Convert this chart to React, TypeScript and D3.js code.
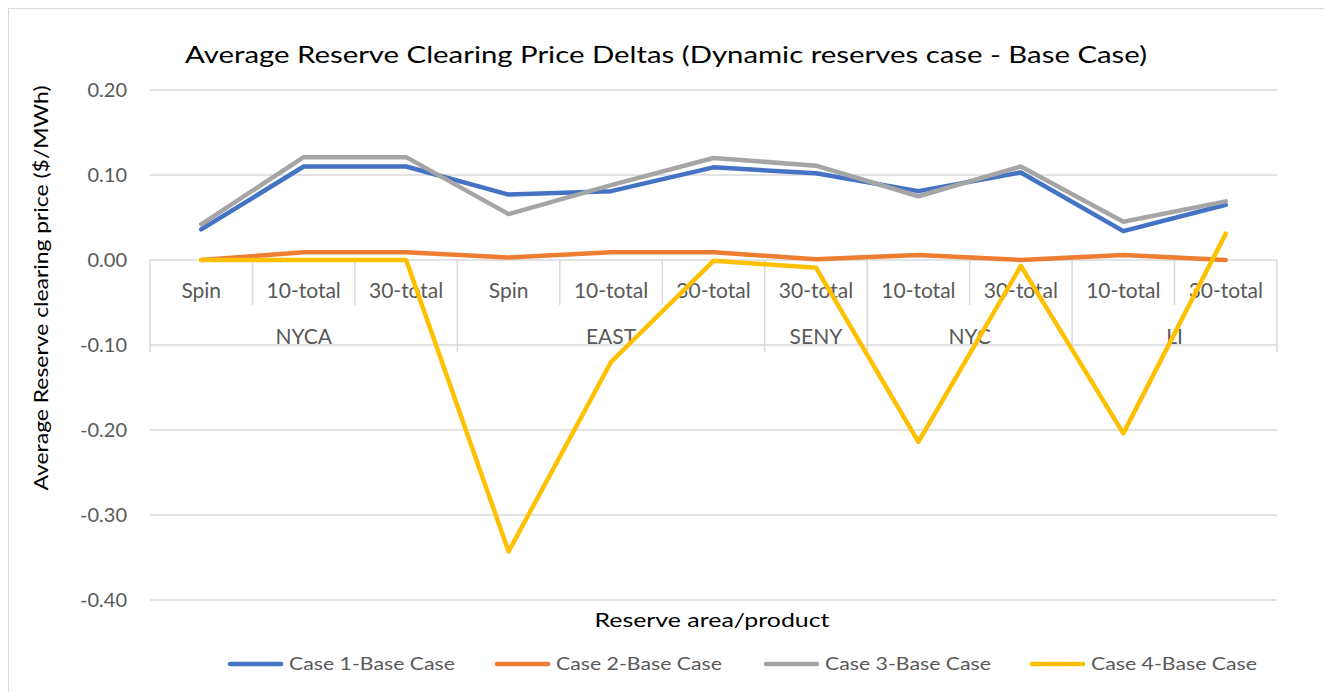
import React from "react";
import * as d3 from "d3";

const categories = ["Spin", "10-total", "30-total", "Spin", "10-total", "30-total", "30-total", "10-total", "30-total", "10-total", "30-total"];
const groupNames = ["NYCA", "EAST", "SENY", "NYC", "LI"];
const groupSizes = [3, 3, 1, 2, 2];
const yTicks = [0.2, 0.1, 0.0, -0.1, -0.2, -0.3, -0.4];

const case1 = [0.036, 0.110, 0.110, 0.077, 0.081, 0.109, 0.102, 0.081, 0.103, 0.034, 0.065];
const case2 = [0.000, 0.009, 0.009, 0.003, 0.009, 0.009, 0.001, 0.006, 0.000, 0.006, 0.000];
const case3 = [0.042, 0.121, 0.121, 0.054, 0.088, 0.120, 0.111, 0.075, 0.110, 0.045, 0.069];
const case4 = [0.000, 0.000, 0.000, -0.343, -0.120, -0.001, -0.009, -0.214, -0.007, -0.204, 0.031];

const seriesNames = ["Case 1-Base Case", "Case 2-Base Case", "Case 3-Base Case", "Case 4-Base Case"];
const seriesColors = ["#4472C4", "#ED7D31", "#A5A5A5", "#FFC000"];
const seriesData = [case1, case2, case3, case4];

const FONT = "Lato, 'Open Sans', sans-serif";

export default function App() {
  const W = 1324, H = 692;
  const left = 150, right = 1277, top = 90, bottom = 600;
  const x = d3.scaleBand<number>().domain(categories.map((_, i) => i)).range([left, right]).paddingInner(0).paddingOuter(0);
  const y = d3.scaleLinear().domain([-0.4, 0.2]).range([bottom, top]);
  const cx = (i: number) => (x(i) as number) + x.bandwidth() / 2;
  const line = d3.line<number>().x((_, i) => cx(i)).y((d) => y(d));
  const y0 = y(0);

  const groupStarts: number[] = [];
  let acc = 0;
  groupSizes.forEach((s) => { groupStarts.push(acc); acc += s; });
  const groupBoundarySet = new Set<number>([...groupStarts, categories.length]);

  const legendX = [228, 495, 764, 1030];

  return (
    <svg width={W} height={H} style={{ position: "absolute", left: 0, top: 0, background: "#fff" }}>
      <rect x={8.5} y={8.5} width={W + 20} height={H + 20} fill="#fff" stroke="#D9D9D9" strokeWidth={1} />
      <text x={666} y={63} textAnchor="middle" fontFamily={FONT} fontSize={24} fill="#000" textLength={962} lengthAdjust="spacingAndGlyphs">
        Average Reserve Clearing Price Deltas (Dynamic reserves case - Base Case)
      </text>
      {yTicks.map((t) => (
        <g key={t}>
          <line x1={left} x2={right} y1={y(t)} y2={y(t)} stroke="#D9D9D9" strokeWidth={1.5} />
          <text x={127} y={y(t) + 7} textAnchor="end" fontFamily={FONT} fontSize={20} fill="#595959">
            {t.toFixed(2)}
          </text>
        </g>
      ))}
      {d3.range(categories.length + 1).map((i) => {
        const xp = i === categories.length ? right : (x(i) as number);
        const isGroup = groupBoundarySet.has(i);
        return <line key={"tk" + i} x1={xp} x2={xp} y1={y0} y2={isGroup ? 352 : 305} stroke="#D9D9D9" strokeWidth={1.5} />;
      })}
      {categories.map((c, i) => (
        <text key={"c" + i} x={cx(i)} y={298} textAnchor="middle" fontFamily={FONT} fontSize={21} fill="#595959">
          {c}
        </text>
      ))}
      {groupNames.map((g, gi) => {
        const s = groupStarts[gi];
        const e = s + groupSizes[gi];
        const x1 = x(s) as number;
        const x2 = e === categories.length ? right : (x(e) as number);
        return (
          <text key={"g" + g} x={(x1 + x2) / 2} y={344} textAnchor="middle" fontFamily={FONT} fontSize={21} fill="#595959">
            {g}
          </text>
        );
      })}
      {seriesData.map((d, si) => (
        <path key={"s" + si} d={line(d) || ""} fill="none" stroke={seriesColors[si]} strokeWidth={4.5} strokeLinejoin="round" strokeLinecap="round" />
      ))}
      <text transform={`translate(48,288) rotate(-90)`} textAnchor="middle" fontFamily={FONT} fontSize={20} fill="#000" textLength={405} lengthAdjust="spacingAndGlyphs">
        Average Reserve clearing price ($/MWh)
      </text>
      <text x={712} y={627} textAnchor="middle" fontFamily={FONT} fontSize={20} fill="#000" textLength={235} lengthAdjust="spacingAndGlyphs">
        Reserve area/product
      </text>
      {seriesNames.map((n, i) => (
        <g key={"l" + i}>
          <line x1={legendX[i] + 2} x2={legendX[i] + 53} y1={664} y2={664} stroke={seriesColors[i]} strokeWidth={4.5} strokeLinecap="round" />
          <text x={legendX[i] + 61} y={670} fontFamily={FONT} fontSize={18} fill="#595959" textLength={166} lengthAdjust="spacingAndGlyphs">
            {n}
          </text>
        </g>
      ))}
    </svg>
  );
}
